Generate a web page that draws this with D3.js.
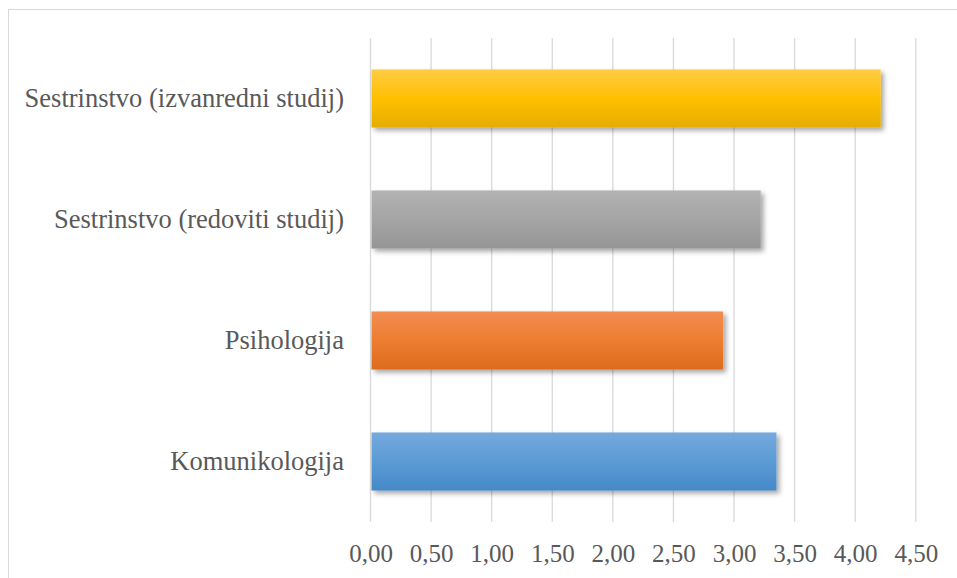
<!DOCTYPE html>
<html><head><meta charset="utf-8">
<script src="https://cdn.jsdelivr.net/npm/d3@7"></script>
<style>body{margin:0;background:#fff}svg{display:block}</style>
</head><body>
<script>
const categories = ["Sestrinstvo (izvanredni studij)", "Sestrinstvo (redoviti studij)", "Psihologija", "Komunikologija"];
const values = [4.21, 3.22, 2.91, 3.35];
const tickValues = [0, 0.5, 1, 1.5, 2, 2.5, 3, 3.5, 4, 4.5];
const tickLabels = ["0,00","0,50","1,00","1,50","2,00","2,50","3,00","3,50","4,00","4,50"];
const barColors = [
  ["#FFCB45","#FFC000","#E5AD00"],
  ["#B2B2B2","#A5A5A5","#959595"],
  ["#F38D52","#ED7D31","#DD6B1D"],
  ["#75A9DE","#5B9BD5","#4688C8"]
];

const W = 957, H = 578;
const svg = d3.select("body").append("svg").attr("width", W).attr("height", H);
const defs = svg.append("defs");
const f = defs.append("filter").attr("id","sh").attr("x","-10%").attr("y","-20%").attr("width","130%").attr("height","160%");
f.append("feDropShadow").attr("dx",3).attr("dy",3).attr("stdDeviation",2.5).attr("flood-color","#000").attr("flood-opacity",0.35);
barColors.forEach((c,i)=>{
  const g = defs.append("linearGradient").attr("id","g"+i).attr("x1",0).attr("y1",0).attr("x2",0).attr("y2",1);
  g.append("stop").attr("offset","0%").attr("stop-color",c[0]);
  g.append("stop").attr("offset","50%").attr("stop-color",c[1]);
  g.append("stop").attr("offset","100%").attr("stop-color",c[2]);
});

// outer border
svg.append("rect").attr("x",8.5).attr("y",9.5).attr("width",W+5).attr("height",H+5)
  .attr("fill","none").attr("stroke","#D9D9D9").attr("stroke-width",1);

const x = d3.scaleLinear().domain([0,4.5]).range([370.5, 915.8]);
const y = d3.scaleBand().domain(categories).range([38, 522]).paddingInner(0.52).paddingOuter(0.26);

// gridlines
svg.append("g").selectAll("line").data(tickValues).join("line")
  .attr("x1",d=>x(d)).attr("x2",d=>x(d)).attr("y1",38).attr("y2",522)
  .attr("stroke","#D9D9D9").attr("stroke-width",1.3);

// bars
svg.append("g").selectAll("rect").data(categories).join("rect")
  .attr("x", x(0)+1).attr("y", d=>y(d))
  .attr("width", (d,i)=>x(values[i])-x(0)-1).attr("height", y.bandwidth())
  .attr("fill",(d,i)=>`url(#g${i})`).attr("filter","url(#sh)");

// x axis
const xAxis = d3.axisBottom(x).tickValues(tickValues).tickFormat((d,i)=>tickLabels[i]).tickSize(0).tickPadding(0);
const gx = svg.append("g").attr("transform","translate(0,522)").call(xAxis);
gx.select(".domain").remove();
gx.selectAll("text").attr("y",31.5).attr("dy","0.35em")
  .attr("font-family","'Liberation Serif','Times New Roman',serif").attr("font-size","25px").attr("fill","#595959");

// y axis
const yAxis = d3.axisLeft(y).tickSize(0).tickPadding(26.5);
const gy = svg.append("g").attr("transform",`translate(${x(0)},0)`).call(yAxis);
gy.select(".domain").remove();
gy.selectAll("text").attr("font-family","'Liberation Serif','Times New Roman',serif").attr("font-size","26.5px").attr("fill","#595959");
</script>
</body></html>
